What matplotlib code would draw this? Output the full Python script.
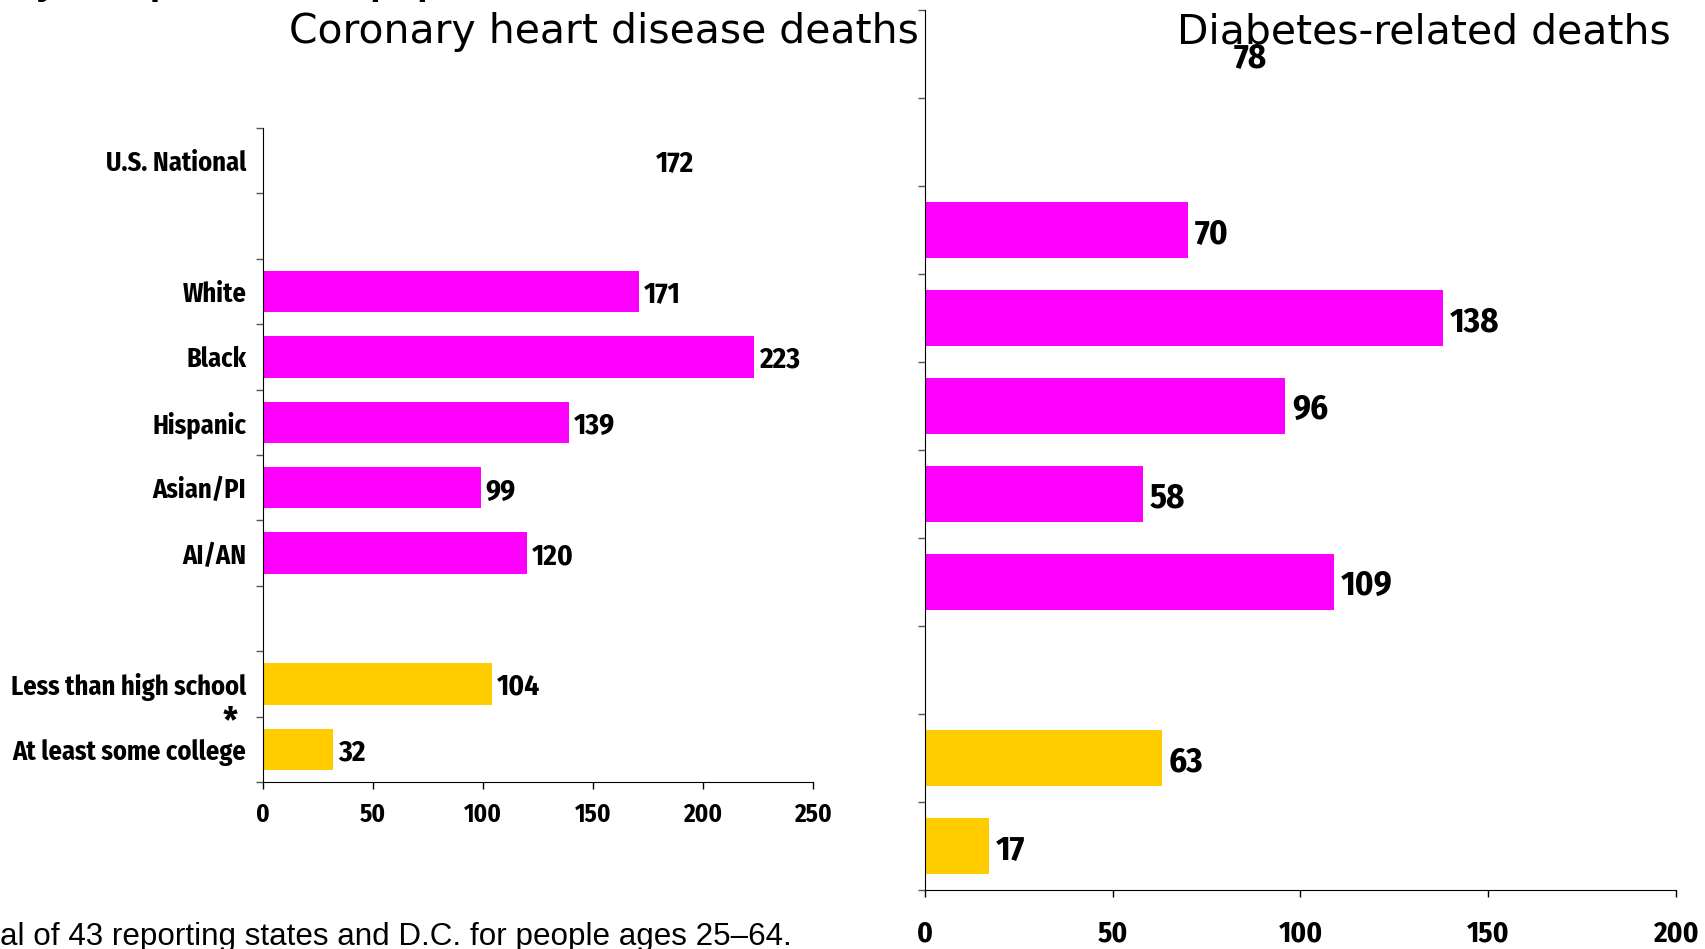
#Importing basic libraries
import matplotlib
matplotlib.use('Agg')
import matplotlib.pyplot as plt

#Data
categories = ['U.S. National', '', 'White', 'Black', 'Hispanic', 'Asian/PI', 'AI/AN',
              '', 'Less than high school', 'At least some college']
chd_deaths = [172, None, 171, 223, 139, 99, 120, None, 104, 32]
diabetes_deaths = [78, None, 70, 138, 96, 58, 109, None, 63, 17]
groups = ['national', None, 'race', 'race', 'race', 'race', 'race', None, 'edu', 'edu']
chd_ticks = [0, 50, 100, 150, 200, 250]
diab_ticks = [0, 50, 100, 150, 200]

group_colors = {'national': 'white', 'race': '#FF00FF', 'edu': '#FFCC00'}
narrow = ['Fira Sans Condensed', 'Liberation Sans', 'DejaVu Sans']
plt.rcParams['font.family'] = narrow

W, H = 1706, 949
fig = plt.figure(figsize=(W / 100, H / 100), dpi=100)

def px_axes(x0, x1, y_top, y_bot):
    return fig.add_axes([x0 / W, 1 - y_bot / H, (x1 - x0) / W, (y_bot - y_top) / H])

def draw_panel(ax, values, ticks, height, val_size, gap, tick_size, tick_pad, show_labels):
    n = len(values)
    for i, (v, g) in enumerate(zip(values, groups)):
        if v is None:
            continue
        ax.barh(i, v, height=height, color=group_colors[g], edgecolor='none')
        off = gap + 9 if g == 'national' else gap
        ax.annotate(str(v), (v, i), xytext=(off * 0.72, 0), textcoords='offset points',
                    ha='left', va='center_baseline', fontsize=val_size, fontweight='bold')
    ax.set_ylim(n - 0.5, -0.5)
    ax.set_xlim(ticks[0], ticks[-1])
    ax.set_xticks(ticks)
    ax.set_xticklabels([str(t) for t in ticks], fontsize=tick_size, fontweight='bold')
    ax.tick_params(axis='x', direction='out', length=5, width=1, pad=tick_pad)
    ax.set_yticks([i - 0.5 for i in range(n + 1)])
    ax.set_yticklabels([])
    ax.tick_params(axis='y', which='major', direction='out', length=5, width=1, color='#555555')
    if show_labels:
        ax.set_yticks(range(n), minor=True)
        ax.set_yticklabels(categories, minor=True, fontsize=19, fontweight='bold')
        ax.tick_params(axis='y', which='minor', length=0, pad=12)
    for s in ['top', 'right']:
        ax.spines[s].set_visible(False)

ax1 = px_axes(263, 813, 128, 782)
draw_panel(ax1, chd_deaths, chd_ticks, 0.63, 21, 5, 18, 10, True)

ax2 = px_axes(925, 1676, 10, 890)
draw_panel(ax2, diabetes_deaths, diab_ticks, 0.64, 25, 7, 21, 16, False)

#Titles
fig.text(604 / W, 1 - 32 / H, 'Coronary heart disease deaths', ha='center', va='center',
         fontsize=29.4, family='DejaVu Sans')
fig.text(1424 / W, 1 - 32 / H, 'Diabetes-related deaths', ha='center', va='center',
         fontsize=29.4, family='DejaVu Sans')

#Asterisk between the education groups
fig.text(230 / W, 1 - 718 / H, '*', ha='center', va='center_baseline', fontsize=26,
         fontweight='bold')

#Cut-off texts at the top and bottom edges
fig.text(567 / W, 1 + 6 / H, 'Mortality rate per 100,000 population', ha='right',
         va='baseline', fontsize=27.7, fontweight='bold', family=['Liberation Sans', 'DejaVu Sans'])
fig.text(0, 1 - 945 / H, 'al of 43 reporting states and D.C. for people ages 25\u201364.',
         ha='left', va='baseline', fontsize=22.6, family=['Liberation Sans', 'DejaVu Sans'])

fig.savefig('out.png', dpi=100)
